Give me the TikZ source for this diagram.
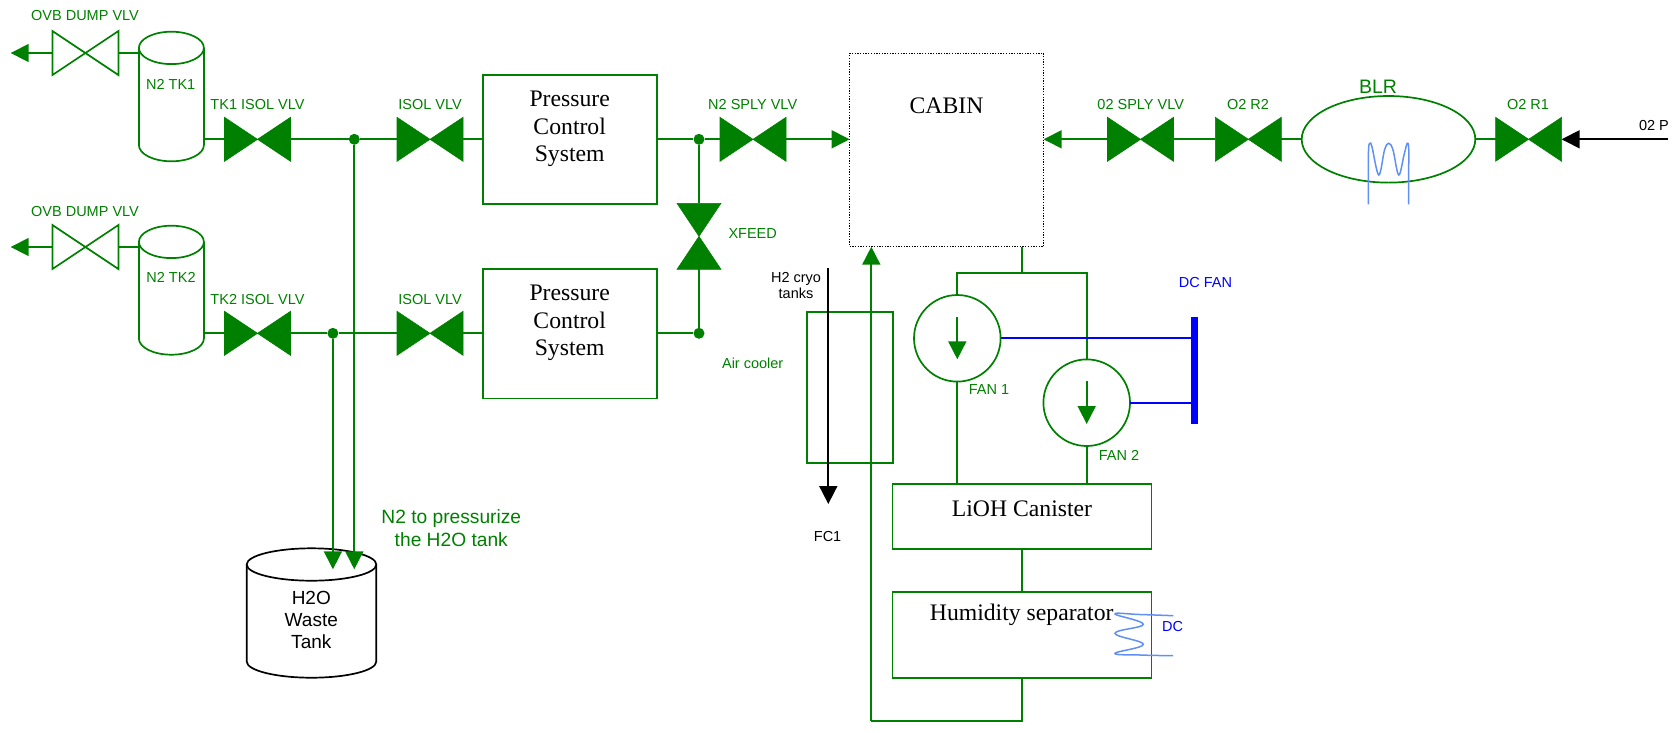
\documentclass[tikz,border=0pt]{standalone}
\usepackage{fontspec}
\setmainfont{Liberation Serif}
\setsansfont{Liberation Sans}
\usetikzlibrary{positioning, shapes, arrows.meta, calc}
\definecolor{pipegreen}{RGB}{0,128,0}
\definecolor{dcblue}{RGB}{0,0,255}
\definecolor{coilblue}{RGB}{96,144,245}
\tikzset{
    pipe/.style={draw=pipegreen, line width=1.7pt},
    head/.style={-{Triangle[length=18pt,width=18pt]}},
    vlv/.style={minimum width=66pt, minimum height=44pt, inner sep=0pt, outer sep=0pt},
    xvlv/.style={minimum width=44pt, minimum height=66pt, inner sep=0pt, outer sep=0pt},
    jn/.style={circle, fill=pipegreen, minimum size=11pt, inner sep=0pt},
    blockbox/.style={pipe, inner sep=0pt, outer sep=0pt},
    fancirc/.style={pipe, circle, minimum size=86.6pt, inner sep=0pt, outer sep=0pt},
    tanknode/.style={inner sep=0pt, outer sep=0pt},
    lbl/.style={text=pipegreen, font=\sffamily\fontsize{14.5}{16.7}\selectfont, align=center, inner sep=0pt},
    blacklbl/.style={lbl, text=black},
    bluelbl/.style={lbl, text=dcblue},
    bigtxt/.style={font=\fontsize{23.7}{27.3}\selectfont, align=center, inner sep=0pt},
    coil/.style={draw=coilblue, line width=1.5pt},
}
\begin{document}
\begin{tikzpicture}[x=1pt, y=-1pt]
    \useasboundingbox (0,0) rectangle (1678,732);

    % Tanks
    \node[tanknode, minimum width=65pt, minimum height=129.6pt] (tk1) at (171.4,96.5) {};
    \node[tanknode, minimum width=65pt, minimum height=129pt] (tk2) at (171.4,290.2) {};
    \foreach \t in {tk1, tk2} {
        \draw[pipe] ($(\t.north)+(0,16.2)$) ellipse[x radius=32.5pt, y radius=16.2pt];
        \draw[pipe] ($(\t.north west)+(0,16.2)$) -- ($(\t.south west)+(0,-16.2)$)
            arc[start angle=180, end angle=360, x radius=32.5pt, y radius=16.2pt]
            -- ($(\t.north east)+(0,16.2)$);
    }
    \node[tanknode, minimum width=129.6pt, minimum height=129.4pt] (wtank) at (311.5,613) {};
    \draw[line width=1.7pt] ($(wtank.north)+(0,16.2)$) ellipse[x radius=64.8pt, y radius=16.2pt];
    \draw[line width=1.7pt] ($(wtank.north west)+(0,16.2)$) -- ($(wtank.south west)+(0,-16.2)$)
        arc[start angle=180, end angle=360, x radius=64.8pt, y radius=16.2pt]
        -- ($(wtank.north east)+(0,16.2)$);

    % Valves
    \node[vlv] (ovb1) at (85.4,53) {};
    \node[vlv] (ovb2) at (85.4,247) {};
    \node[vlv] (tk1vlv) at (257.5,139.3) {};
    \node[vlv] (tk2vlv) at (257.5,333.3) {};
    \node[vlv] (isol1) at (430,139.3) {};
    \node[vlv] (isol2) at (430,333.3) {};
    \node[vlv] (n2sply) at (753,139.3) {};
    \node[xvlv] (xfeed) at (699,236.3) {};
    \node[vlv] (o2sply) at (1140.5,139.3) {};
    \node[vlv] (o2r2) at (1248.3,139.3) {};
    \node[vlv] (o2r1) at (1528.6,139.3) {};
    \foreach \v in {ovb1, ovb2}
        \draw[pipe] (\v.north west) -- (\v.south east) -- (\v.north east) -- (\v.south west) -- cycle;
    \foreach \v in {tk1vlv, tk2vlv, isol1, isol2, n2sply, o2sply, o2r2, o2r1}
        \filldraw[pipegreen, line width=0.6pt] (\v.north west) -- (\v.south east) -- (\v.north east) -- (\v.south west) -- cycle;
    \filldraw[pipegreen, line width=0.6pt] (xfeed.north west) -- (xfeed.north east) -- (xfeed.south west) -- (xfeed.south east) -- cycle;

    % Boxes
    \node[blockbox, minimum width=173.4pt, minimum height=129.4pt] (pcs1) at (570,139.4) {};
    \node[blockbox, minimum width=173.4pt, minimum height=129.4pt] (pcs2) at (570,333.7) {};
    \node[bigtxt] (pcs1txt) at (569.7,129) {Pressure\\Control\\System};
    \node[bigtxt] (pcs2txt) at (569.7,323) {Pressure\\Control\\System};
    \node[draw, line width=1.3pt, dash pattern=on 1.3pt off 1.4pt, inner sep=0pt, outer sep=0pt, minimum width=194pt, minimum height=193.4pt] (cabin) at (946.6,150) {};
    \node[bigtxt] (cabintxt) at (946.5,106) {CABIN};
    \node[pipe, ellipse, inner sep=0pt, outer sep=0pt, minimum width=173.6pt, minimum height=86.6pt] (blr) at (1388.5,139.3) {};
    \node[blockbox, minimum width=86.6pt, minimum height=151pt] (cooler) at (850,387.2) {};
    \node[blockbox, minimum width=259pt, minimum height=65pt] (lioh) at (1022,516.5) {};
    \node[blockbox, minimum width=259pt, minimum height=86.6pt] (humsep) at (1022,635) {};
    \node[bigtxt] (liohtxt) at (1022,508.3) {LiOH Canister};
    \node[bigtxt] (humtxt) at (1021.7,615) {Humidity separator};
    \node[fancirc] (fan1) at (957.3,338.3) {};
    \node[fancirc] (fan2) at (1086.7,402.7) {};
    \node[fill=dcblue, inner sep=0pt, outer sep=0pt, minimum width=6.7pt, minimum height=107.3pt] (dcbus) at (1194.3,370.3) {};

    % Junctions and free ends
    \node[jn] (jn1) at (354.3,139.3) {};
    \node[jn] (jn2) at (332.9,333.3) {};
    \node[jn] (jn3) at (699,139.3) {};
    \node[jn] (jn4) at (699,333.3) {};
    \coordinate (vent1) at (10.7,53);
    \coordinate (vent2) at (10.7,247);
    \coordinate (wtip1) at (332.9,569.3);
    \coordinate (wtip2) at (354.3,569.3);
    \coordinate (o2in) at (1668,139.3);
    \coordinate (h2top) at (828.3,268.3);
    \coordinate (h2tip) at (828.3,504);
    \coordinate (bus) at (1022,273.3);
    \coordinate (retdn) at (1022,720.7);
    \coordinate (retlft) at (871.3,720.7);

    % N2 side
    \draw[pipe, head] (ovb1.west) -- (vent1);
    \draw[pipe, head] (ovb2.west) -- (vent2);
    \draw[pipe] (ovb1.east) -- (ovb1.east -| tk1.west);
    \draw[pipe] (ovb2.east) -- (ovb2.east -| tk2.west);
    \draw[pipe] (tk1vlv.west -| tk1.east) -- (tk1vlv.west);
    \draw[pipe] (tk2vlv.west -| tk2.east) -- (tk2vlv.west);
    \draw[pipe] (tk1vlv.east) -- (jn1) -- (isol1.west);
    \draw[pipe] (tk2vlv.east) -- (jn2) -- (isol2.west);
    \draw[pipe] (isol1.east) -- (isol1.east -| pcs1.west);
    \draw[pipe] (isol2.east) -- (isol2.east -| pcs2.west);
    \draw[pipe, head] (jn1) -- (wtip2);
    \draw[pipe, head] (jn2) -- (wtip1);
    \draw[pipe] (jn3 -| pcs1.east) -- (jn3) -- (n2sply.west);
    \draw[pipe] (jn4 -| pcs2.east) -- (jn4);
    \draw[pipe] (jn3) -- (xfeed.north);
    \draw[pipe] (xfeed.south) -- (jn4);
    \draw[pipe, head] (n2sply.east) -- (n2sply.east -| cabin.west);

    % O2 side
    \draw[line width=1.7pt, head] (o2in) -- (o2r1.east);
    \draw[pipe] (o2r1.west) -- (blr.east);
    \draw[pipe] (blr.west) -- (o2r2.east);
    \draw[pipe] (o2r2.west) -- (o2sply.east);
    \draw[pipe, head] (o2sply.west) -- (o2sply.west -| cabin.east);

    % Cabin air loop
    \draw[pipe] (cabin.south -| bus) -- (bus);
    \draw[pipe] (fan1.north) |- (bus) -| (fan2.north);
    \draw[pipe] (fan1.south) -- (fan1.south |- lioh.north);
    \draw[pipe] (fan2.south) -- (fan2.south |- lioh.north);
    \draw[pipe] (lioh.south) -- (humsep.north);
    \draw[pipe] (humsep.south) -- (retdn) -- (retlft);
    \draw[pipe, head] (retlft) -- (retlft |- cabin.south);
    \draw[line width=1.7pt, head] (h2top) -- (h2tip);
    \draw[pipe, head] (957.3,316.7) -- (957.3,359.3);
    \draw[pipe, head] (1086.7,381) -- (1086.7,424);
    \draw[draw=dcblue, line width=1.7pt] (fan1.east) -- (fan1.east -| dcbus.west);
    \draw[draw=dcblue, line width=1.7pt] (fan2.east) -- (fan2.east -| dcbus.west);

    % Coils
    \draw[coil] plot[smooth, tension=0.6] coordinates {(1368.4,204.3) (1368.4,170) (1368.6,148) (1370,143.3) (1372,147) (1378.8,175) (1384.5,150) (1388.7,143.3) (1393,150) (1398.7,175) (1404,155) (1407.2,143.3) (1408.7,148) (1408.7,170) (1408.7,204.3)};
    \draw[coil] plot[smooth, tension=0.7] coordinates {(1173.3,615.7) (1140,614.5) (1115,614) (1143.3,624.3) (1115,633.3) (1143.3,644.3) (1115,653.3) (1140,655) (1173,655.7)};

    % Labels
    \node[lbl] (ovb1lbl) at (85,16) {OVB DUMP VLV};
    \node[lbl] (ovb2lbl) at (85,212) {OVB DUMP VLV};
    \node[lbl] (tk1lbl) at (170.7,84) {N2 TK1};
    \node[lbl] (tk2lbl) at (171,277) {N2 TK2};
    \node[lbl] (tk1vlvlbl) at (257.5,105) {TK1 ISOL VLV};
    \node[lbl] (tk2vlvlbl) at (257.5,299) {TK2 ISOL VLV};
    \node[lbl] (isol1lbl) at (430,105) {ISOL VLV};
    \node[lbl] (isol2lbl) at (430,299) {ISOL VLV};
    \node[lbl] (n2lbl) at (752.7,105) {N2 SPLY VLV};
    \node[lbl] (xfeedlbl) at (752.7,234) {XFEED};
    \node[lbl] (coolerlbl) at (752.7,363.3) {Air cooler};
    \node[lbl] (o2lbl) at (1140.7,105) {02 SPLY VLV};
    \node[lbl] (r2lbl) at (1248,105) {O2 R2};
    \node[lbl] (r1lbl) at (1528,105) {O2 R1};
    \node[lbl, font=\sffamily\fontsize{19.5}{22}\selectfont] (blrlbl) at (1378,86.7) {BLR};
    \node[lbl] (fan1lbl) at (989,390) {FAN 1};
    \node[lbl] (fan2lbl) at (1119,455) {FAN 2};
    \node[lbl, font=\sffamily\fontsize{19.2}{22.6}\selectfont] (n2tolbl) at (451.3,528) {N2 to pressurize\\the H2O tank};
    \node[blacklbl, font=\sffamily\fontsize{19}{22}\selectfont] (wtanklbl) at (311.3,619.5) {H2O\\Waste\\Tank};
    \node[blacklbl] (h2lbl) at (796,285.5) {H2 cryo\\tanks};
    \node[blacklbl] (fclbl) at (827.6,536.4) {FC1};
    \node[blacklbl] (o2plbl) at (1654,126) {02 P};
    \node[bluelbl] (dcfanlbl) at (1205.5,282.7) {DC FAN};
    \node[bluelbl] (dclbl) at (1172.7,626.7) {DC};
\end{tikzpicture}
\end{document}
